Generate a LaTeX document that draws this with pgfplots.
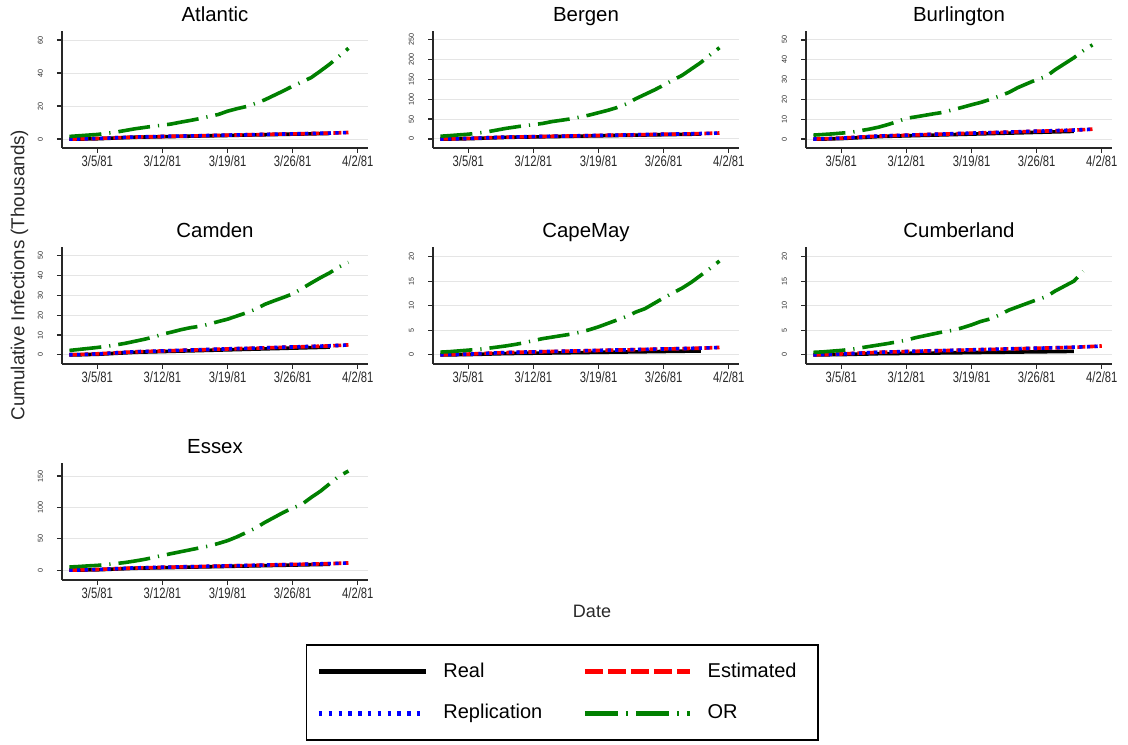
\documentclass[border=0pt]{standalone}
\usepackage{pgfplots}
\pgfplotsset{compat=1.18}
\usepackage{pgfplotstable}
\usepackage{fontspec}
\setmainfont{Liberation Sans}
\newfontfamily\narrowsf[FakeStretch=0.75]{Liberation Sans}
\definecolor{orgreen}{RGB}{0,128,0}
\definecolor{axgray}{RGB}{40,40,40}

\pgfplotstableread{
d real est rep or
1 0 0 0 1.6
2 0 0.12 0.08 2.0
3 0.13 0.24 0.20 2.4
4 0.22 0.40 0.36 2.8
5 0.44 0.60 0.56 3.5
6 0.66 0.80 0.80 4.2
7 0.88 1.00 1.04 5.2
8 1.10 1.20 1.24 6.2
9 1.23 1.32 1.36 7.0
10 1.32 1.44 1.48 7.8
11 1.45 1.56 1.60 8.4
12 1.54 1.68 1.72 9.2
13 1.67 1.80 1.84 10.3
14 1.76 1.92 1.92 11.3
15 1.89 2.00 2.04 12.4
16 1.98 2.12 2.16 13.7
17 2.11 2.24 2.28 14.9
18 2.20 2.36 2.40 16.9
19 2.33 2.48 2.52 18.4
20 2.42 2.60 2.60 19.7
21 2.55 2.68 2.72 21.6
22 2.64 2.80 2.84 23.8
23 2.77 2.92 2.96 26.5
24 2.86 3.04 3.08 29.2
25 2.99 3.16 3.16 32.1
26 3.08 3.24 3.28 34.6
27 3.21 3.36 3.40 37.3
28 3.30 3.48 3.52 41.3
29 3.43 3.60 3.64 45.5
30 nan 3.80 3.80 50.2
31 nan 4.00 3.96 55.0
}\atlantic

\pgfplotstableread{
d real est rep or
1 0 0 0 6.9
2 0 0.45 0.30 8.5
3 0.48 0.90 0.75 10.3
4 0.80 1.50 1.35 12.0
5 1.60 2.25 2.10 14.7
6 2.40 3.00 3.00 17.9
7 3.20 3.75 3.90 22.1
8 4.00 4.50 4.65 26.5
9 4.48 4.95 5.10 29.9
10 4.80 5.40 5.55 33.4
11 5.28 5.85 6.00 35.9
12 5.60 6.30 6.45 39.1
13 6.08 6.75 6.90 43.7
14 6.40 7.20 7.20 47.0
15 6.88 7.50 7.65 50.5
16 7.20 7.95 8.10 55.0
17 7.68 8.40 8.55 60.0
18 8.00 8.85 9.00 66.0
19 8.48 9.30 9.45 72.0
20 8.80 9.75 9.75 79.0
21 9.28 10.05 10.20 88.0
22 9.60 10.50 10.65 101.0
23 10.08 10.95 11.10 112.0
24 10.40 11.40 11.55 123.0
25 10.88 11.85 11.85 135.0
26 11.20 12.15 12.30 148.0
27 11.68 12.60 12.75 160.0
28 12.00 13.05 13.20 176.0
29 12.48 13.50 13.65 192.0
30 nan 14.25 14.25 211.0
31 nan 15.00 14.85 229.0
}\bergen

\pgfplotstableread{
d real est rep or
1 0 0 0 2.0
2 0 0.15 0.10 2.3
3 0.15 0.30 0.25 2.6
4 0.25 0.50 0.45 3.0
5 0.50 0.75 0.70 3.4
6 0.75 1.00 1.00 4.2
7 1.00 1.25 1.30 5.0
8 1.25 1.50 1.55 6.0
9 1.40 1.65 1.70 7.3
10 1.50 1.80 1.85 8.8
11 1.65 1.95 2.00 10.5
12 1.75 2.10 2.15 11.2
13 1.90 2.25 2.30 12.0
14 2.00 2.40 2.40 12.8
15 2.15 2.50 2.55 13.5
16 2.25 2.65 2.70 14.8
17 2.40 2.80 2.85 16.0
18 2.50 2.95 3.00 17.3
19 2.65 3.10 3.15 18.5
20 2.75 3.25 3.25 20.0
21 2.90 3.35 3.40 21.7
22 3.00 3.50 3.55 23.5
23 3.15 3.65 3.70 26.0
24 3.25 3.80 3.85 28.0
25 3.40 3.95 3.95 30.0
26 3.50 4.05 4.10 31.5
27 3.65 4.20 4.25 35.0
28 3.75 4.35 4.40 38.0
29 3.90 4.50 4.55 41.0
30 nan 4.75 4.75 44.5
31 nan 5.00 4.95 47.5
}\burlington

\pgfplotstableread{
d real est rep or
1 0 0 0 2.2
2 0 0.15 0.10 2.7
3 0.15 0.30 0.25 3.2
4 0.25 0.50 0.45 3.7
5 0.50 0.75 0.70 4.3
6 0.75 1.00 1.00 5.0
7 1.00 1.25 1.30 5.8
8 1.25 1.50 1.55 6.8
9 1.40 1.65 1.70 7.8
10 1.50 1.80 1.85 8.9
11 1.65 1.95 2.00 10.4
12 1.75 2.10 2.15 11.5
13 1.90 2.25 2.30 12.7
14 2.00 2.40 2.40 13.7
15 2.15 2.50 2.55 14.4
16 2.25 2.65 2.70 15.5
17 2.40 2.80 2.85 16.8
18 2.50 2.95 3.00 18.0
19 2.65 3.10 3.15 19.6
20 2.75 3.25 3.25 21.2
21 2.90 3.35 3.40 23.0
22 3.00 3.50 3.55 25.5
23 3.15 3.65 3.70 27.3
24 3.25 3.80 3.85 29.0
25 3.40 3.95 3.95 30.8
26 3.50 4.05 4.10 33.5
27 3.65 4.20 4.25 36.3
28 3.75 4.35 4.40 39.0
29 3.90 4.50 4.55 41.5
30 nan 4.75 4.75 44.5
31 nan 5.00 4.95 46.7
}\camden

\pgfplotstableread{
d real est rep or
1 0 0 0 0.55
2 0 0.05 0.03 0.65
3 0.03 0.09 0.08 0.80
4 0.05 0.15 0.14 0.95
5 0.10 0.23 0.21 1.10
6 0.15 0.30 0.30 1.30
7 0.20 0.38 0.39 1.55
8 0.25 0.45 0.47 1.80
9 0.28 0.50 0.51 2.10
10 0.30 0.54 0.56 2.45
11 0.33 0.59 0.60 2.90
12 0.35 0.63 0.65 3.30
13 0.38 0.68 0.69 3.60
14 0.40 0.72 0.72 3.90
15 0.43 0.75 0.77 4.20
16 0.45 0.80 0.81 4.60
17 0.48 0.84 0.86 5.10
18 0.50 0.89 0.90 5.70
19 0.53 0.93 0.95 6.40
20 0.55 0.98 0.98 7.10
21 0.58 1.00 1.02 7.80
22 0.60 1.05 1.07 8.70
23 0.63 1.10 1.11 9.40
24 0.65 1.14 1.16 10.50
25 0.68 1.19 1.19 11.60
26 0.70 1.22 1.23 12.60
27 0.73 1.26 1.28 13.60
28 0.75 1.31 1.32 14.80
29 0.78 1.35 1.37 16.20
30 nan 1.43 1.43 17.60
31 nan 1.50 1.49 19.10
}\capemay

\pgfplotstableread{
d real est rep or
1 0 0 0 0.50
2 0 0.05 0.03 0.60
3 0.03 0.10 0.09 0.75
4 0.05 0.17 0.15 0.90
5 0.09 0.26 0.24 1.10
6 0.14 0.34 0.34 1.40
7 0.18 0.43 0.44 1.70
8 0.23 0.51 0.53 2.00
9 0.25 0.56 0.58 2.30
10 0.27 0.61 0.63 2.65
11 0.30 0.66 0.68 3.00
12 0.32 0.71 0.73 3.50
13 0.34 0.77 0.78 3.90
14 0.36 0.82 0.82 4.30
15 0.39 0.85 0.87 4.70
16 0.41 0.90 0.92 5.00
17 0.43 0.95 0.97 5.50
18 0.45 1.00 1.02 6.10
19 0.48 1.05 1.07 6.80
20 0.50 1.10 1.10 7.30
21 0.52 1.14 1.16 8.10
22 0.54 1.19 1.21 9.10
23 0.57 1.24 1.26 9.80
24 0.59 1.29 1.31 10.50
25 0.61 1.34 1.34 11.20
26 0.63 1.38 1.39 11.80
27 0.66 1.43 1.45 13.00
28 0.68 1.48 1.50 14.00
29 0.70 1.53 1.55 15.00
30 nan 1.62 1.62 17.00
31 nan 1.70 1.68 nan
32 nan 1.80 1.78 nan
}\cumberland

\pgfplotstableread{
d real est rep or
1 0 0 0 5.0
2 0 0.35 0.23 5.8
3 0.36 0.69 0.58 6.8
4 0.60 1.15 1.04 7.6
5 1.20 1.73 1.61 9.0
6 1.80 2.30 2.30 10.5
7 2.40 2.88 2.99 12.2
8 3.00 3.45 3.57 14.5
9 3.36 3.80 3.91 17.0
10 3.60 4.14 4.26 20.0
11 3.96 4.49 4.60 23.5
12 4.20 4.83 4.95 26.5
13 4.56 5.18 5.29 29.5
14 4.80 5.52 5.52 32.5
15 5.16 5.75 5.87 35.5
16 5.40 6.10 6.21 38.5
17 5.76 6.44 6.56 42.5
18 6.00 6.79 6.90 47.0
19 6.36 7.13 7.25 53.0
20 6.60 7.48 7.48 60.0
21 6.96 7.71 7.82 67.0
22 7.20 8.05 8.17 76.0
23 7.56 8.40 8.51 84.0
24 7.80 8.74 8.86 92.0
25 8.16 9.09 9.09 99.0
26 8.40 9.32 9.43 105.0
27 8.76 9.66 9.78 116.0
28 9.00 10.00 10.12 126.0
29 9.36 10.35 10.47 138.0
30 nan 10.93 10.93 150.0
31 nan 11.50 11.39 158.0
}\essex

\pgfplotsset{
  panel/.style={
    scale only axis, width=153pt, height=58.5pt,
    anchor=south west,
    xmin=0.2, xmax=33.1,
    axis x line*=bottom, axis y line*=left,
    axis line style={axgray, line width=0.7pt},
    tick style={axgray, line width=0.6pt},
    tick align=outside, major tick length=2.5pt,
    xtick={4,11,18,25,32},
    xticklabels={3/5/81,3/12/81,3/19/81,3/26/81,4/2/81},
    xticklabel style={font=\narrowsf\fontsize{7.5}{8}\selectfont, text=axgray, yshift=2pt},
    yticklabel style={xshift=-3.5pt, rotate=90, anchor=south, font=\fontsize{3.6}{4}\selectfont, text=axgray},
    ymajorgrids, grid style={black!10, line width=0.5pt},
    title style={font=\fontsize{10.2}{12}\selectfont, at={(0.5,1)}, anchor=base, yshift=-1.3pt},
    /pgf/number format/assume math mode=true,
    clip=false,
    every axis plot/.append style={line width=1.8pt, line cap=butt},
  },
  realp/.style={black},
  estp/.style={red, dash pattern=on 4pt off 1.5pt},
  repp/.style={blue, dash pattern=on 1.6pt off 2.2pt},
  orp/.style={orgreen, dash pattern=on 16pt off 4pt on 0.6pt off 4pt},
}

\newcommand{\fourplots}[1]{%
  \addplot[realp] table[x=d,y=real]{#1};
  \addplot[estp] table[x=d,y=est]{#1};
  \addplot[repp] table[x=d,y=rep]{#1};
  \addplot[orp] table[x=d,y=or]{#1};
}

\begin{document}
\begin{tikzpicture}
\useasboundingbox (0,0) rectangle (564pt,372pt);

\begin{axis}[panel, at={(31pt,298pt)}, title={Atlantic}, ymin=-5.4, ymax=65.5, ytick={0,20,40,60}]
\fourplots{\atlantic}
\end{axis}

\begin{axis}[panel, at={(216.5pt,298pt)}, title={Bergen}, ymin=-22.6, ymax=271, ytick={0,50,100,150,200,250}]
\fourplots{\bergen}
\end{axis}

\begin{axis}[panel, at={(403pt,298pt)}, title={Burlington}, ymin=-4.5, ymax=54.5, ytick={0,10,20,30,40,50}]
\fourplots{\burlington}
\end{axis}

\begin{axis}[panel, at={(31pt,190pt)}, title={Camden}, ymin=-4.65, ymax=54.5, ytick={0,10,20,30,40,50}]
\fourplots{\camden}
\end{axis}

\begin{axis}[panel, at={(216.5pt,190pt)}, title={CapeMay}, ymin=-1.87, ymax=21.95, ytick={0,5,10,15,20}]
\fourplots{\capemay}
\end{axis}

\begin{axis}[panel, at={(403pt,190pt)}, title={Cumberland}, ymin=-1.87, ymax=21.95, ytick={0,5,10,15,20}]
\fourplots{\cumberland}
\end{axis}

\begin{axis}[panel, at={(31pt,82pt)}, title={Essex}, ymin=-15.7, ymax=170.8, ytick={0,50,100,150},
  legend columns=2, legend cell align=left,
  legend style={at={(1.634,-0.9615)}, anchor=center, draw=black, line width=0.9pt,
    font=\fontsize{10}{12}\selectfont, inner xsep=5pt, inner ysep=7pt, row sep=8pt,
    /tikz/every even column/.append style={column sep=18pt},
    /tikz/every odd column/.append style={column sep=5.5pt}}]
\addplot[realp, legend image code/.code={\draw[black, line width=2.5pt] (0pt,0pt) -- (53.5pt,0pt);}] table[x=d,y=real]{\essex};
\addlegendentry{Real}
\addplot[estp, legend image code/.code={\draw[red, line width=2.5pt, dash pattern=on 9pt off 2.5pt] (0pt,0pt) -- (52.5pt,0pt); \path (53pt,0pt);}] table[x=d,y=est]{\essex};
\addlegendentry{Estimated\kern3.5pt}
\addplot[repp, legend image code/.code={\draw[blue, line width=2.5pt, dash pattern=on 1.7pt off 3.2pt] (0pt,0pt) -- (53.5pt,0pt);}] table[x=d,y=rep]{\essex};
\addlegendentry{Replication}
\addplot[orp, legend image code/.code={\draw[orgreen, line width=2.5pt, dash pattern=on 16.5pt off 4pt on 1pt off 4pt] (0pt,0pt) -- (52.5pt,0pt); \path (53pt,0pt);}] table[x=d,y=or]{\essex};
\addlegendentry{OR}
\end{axis}

\node[rotate=90, font=\fontsize{9.4}{11}\selectfont, text=axgray] at (9.75pt,234.5pt) {Cumulative Infections (Thousands)};
\node[font=\fontsize{9}{11}\selectfont, text=axgray] at (296pt,66.5pt) {Date};
\end{tikzpicture}
\end{document}
